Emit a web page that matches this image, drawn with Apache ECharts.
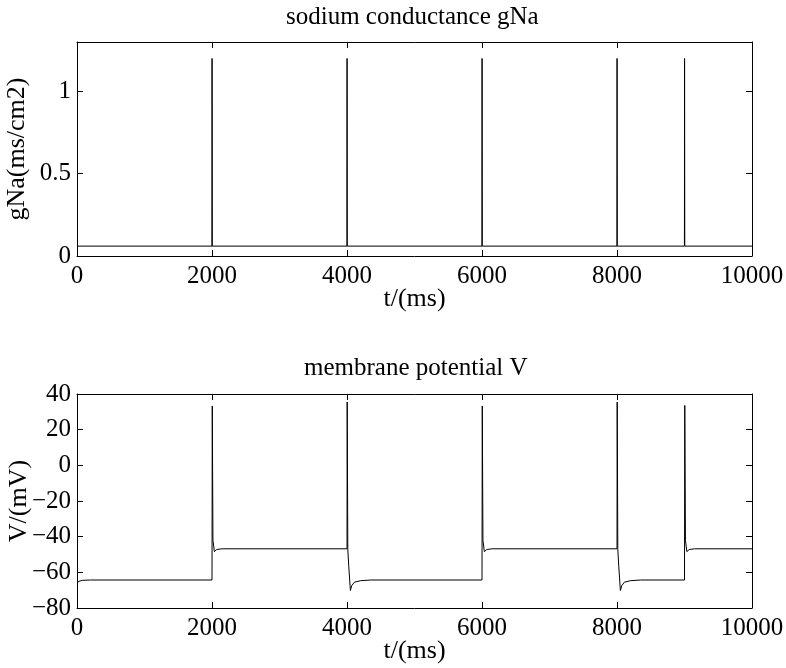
<!DOCTYPE html>
<html>
<head>
<meta charset="utf-8">
<script src="https://cdn.jsdelivr.net/npm/echarts@6/dist/echarts.min.js"></script>
<style>html,body{margin:0;padding:0;background:#fff}#c{width:786px;height:668px}</style>
</head>
<body>
<div id="c"></div>
<script>
// ---- data ----
var titleTop = 'sodium conductance gNa';
var titleBottom = 'membrane potential V';
var xName = 't/(ms)';
var yNameTop = 'gNa(ms/cm2)';
var yNameBottom = 'V/(mV)';

// sodium conductance (ms/cm2) vs time (ms)
var tG = [0, 1999, 2001, 2004, 3999, 4001, 4004, 5999, 6001, 6004, 7999, 8001, 8004, 8999, 9001, 9004, 10000];
var gNa = [0.06, 0.06, 1.2, 0.06, 0.06, 1.2, 0.06, 0.06, 1.2, 0.06, 0.06, 1.2, 0.06, 0.06, 1.2, 0.06, 0.06];

// membrane potential (mV) vs time (ms)
var tV = [0, 30, 80, 200,
  2000, 2004, 2014, 2035, 2070, 2150,
  4000, 4003, 4012, 4025, 4050, 4070, 4110, 4200, 4350,
  6000, 6004, 6014, 6035, 6070, 6150,
  8000, 8003, 8012, 8025, 8050, 8070, 8110, 8200, 8350,
  9000, 9004, 9014, 9035, 9070, 9150,
  10000];
var vV = [-66, -65, -64.5, -64.3,
  -64.3, 33.3, -42, -48.4, -47.2, -46.8,
  -46.8, 35.5, -47, -56, -70.2, -67.5, -65.5, -64.7, -64.3,
  -64.3, 33.3, -42, -48.4, -47.2, -46.8,
  -46.8, 35.5, -47, -56, -70.2, -67.5, -65.5, -64.7, -64.3,
  -64.3, 33.6, -42, -48.4, -47.2, -46.8,
  -46.8];

var xTicks = {min: 0, max: 10000, interval: 2000};
var yTopTicks = {min: 0, max: 1.3, interval: 0.5};
var yBotTicks = {min: -80, max: 40, interval: 20};

function pairs(xs, ys) { return xs.map(function (x, i) { return [x, ys[i]]; }); }

var FONT = '"Liberation Serif", "Times New Roman", serif';
var lineStyle = {color: '#000', width: 1};

function axis(kind, gridIndex, position, ticks, showLabel, name, gap) {
  var a = {
    type: 'value', gridIndex: gridIndex, position: position,
    min: ticks.min, max: ticks.max, interval: ticks.interval,
    axisLine: {show: true, onZero: false, lineStyle: {color: '#000', width: 1}},
    axisTick: {show: true, inside: true, length: 6, lineStyle: {color: '#000', width: 1}},
    splitLine: {show: false},
    axisLabel: {show: showLabel, color: '#000', fontFamily: FONT, fontSize: 25, margin: kind === 'x' ? 8 : 6,
      showMaxLabel: true, showMinLabel: true, hideOverlap: false,
      formatter: function (v) {
        var k = Math.round((v - ticks.min) / ticks.interval);
        if (Math.abs(ticks.min + k * ticks.interval - v) > 1e-9) return '';
        return String(Math.round(v * 100) / 100).replace('-', '\u2212');
      }}
  };
  if (name) {
    a.name = name; a.nameLocation = 'middle';
    a.nameMoveOverlap = false;
    a.nameTextStyle = {color: '#000', fontFamily: FONT, fontSize: 26};
    a.nameGap = gap;
  }
  return a;
}

var chart = echarts.init(document.getElementById('c'), null, {renderer: 'canvas'});
chart.setOption({
  animation: false,
  backgroundColor: '#fff',
  grid: [
    {left: 77, right: 34, top: 42, height: 214, containLabel: false, outerBoundsMode: 'none'},
    {left: 77, right: 34, top: 394, height: 214, containLabel: false, outerBoundsMode: 'none'}
  ],
  xAxis: [
    axis('x', 0, 'bottom', xTicks, true, xName, 30),
    axis('x', 0, 'top', xTicks, false),
    axis('x', 1, 'bottom', xTicks, true, xName, 30),
    axis('x', 1, 'top', xTicks, false)
  ],
  yAxis: [
    axis('y', 0, 'left', yTopTicks, true, yNameTop, 47),
    axis('y', 0, 'right', yTopTicks, false),
    axis('y', 1, 'left', yBotTicks, true, yNameBottom, 45),
    axis('y', 1, 'right', yBotTicks, false)
  ],
  graphic: [
    {type: 'text', left: 414 - 128, top: 5, style: {text: titleTop, font: '25px ' + FONT, fill: '#000'}},
    {type: 'text', left: 414 - 110, top: 356, style: {text: titleBottom, font: '25px ' + FONT, fill: '#000'}}
  ],
  series: [
    {type: 'line', xAxisIndex: 0, yAxisIndex: 0, data: pairs(tG, gNa), showSymbol: false, lineStyle: lineStyle, silent: true},
    {type: 'line', xAxisIndex: 2, yAxisIndex: 2, data: pairs(tV, vV), showSymbol: false, lineStyle: lineStyle, silent: true}
  ]
});
</script>
</body>
</html>
